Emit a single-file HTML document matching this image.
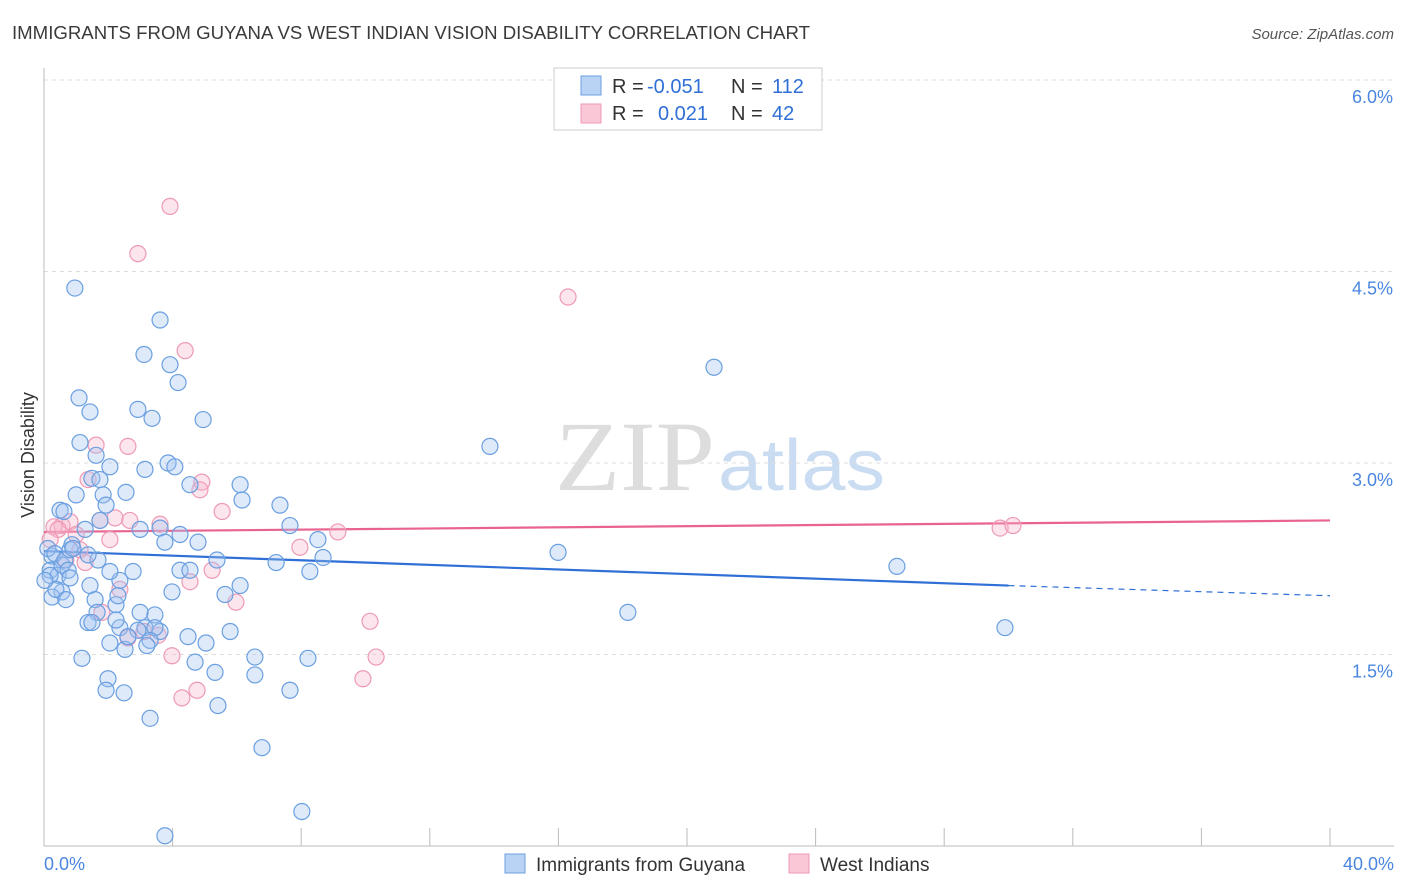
<!DOCTYPE html>
<html><head><meta charset="utf-8"><style>
body{margin:0;background:#fff;font-family:"Liberation Sans",sans-serif;}
svg{display:block}
</style></head><body>
<svg id="chart" width="1406" height="892">
<text x="12" y="39" font-size="18" fill="#3a3a3a" textLength="798" lengthAdjust="spacingAndGlyphs">IMMIGRANTS FROM GUYANA VS WEST INDIAN VISION DISABILITY CORRELATION CHART</text>
<text x="1394" y="39" font-size="15" fill="#555" text-anchor="end" font-style="italic">Source: ZipAtlas.com</text>
<text x="635" y="490" font-size="100" fill="#ddd" text-anchor="middle" font-family="Liberation Serif,serif" textLength="160" lengthAdjust="spacingAndGlyphs">ZIP</text>
<text x="718" y="490" font-size="72" fill="#c9dcf2" textLength="167" lengthAdjust="spacingAndGlyphs">atlas</text>
<g id="grid"></g>
<g id="axes"></g>
<g id="trends"></g>
<g id="points"></g>
<text x="34" y="455" font-size="18" fill="#333" text-anchor="middle" transform="rotate(-90 34 455)">Vision Disability</text>
<g>
<rect x="554" y="68" width="268" height="62" fill="#fff" stroke="#ccc"/>
<rect x="581" y="76" width="20" height="19" fill="#b9d3f5" stroke="#6a9fe0"/>
<rect x="581" y="104" width="20" height="19" fill="#f9c7d6" stroke="#ee9ab5"/>
<text x="612" y="93" font-size="20" fill="#333">R =</text>
<text x="647" y="93" font-size="20" fill="#2f6fd6">-0.051</text>
<text x="731" y="93" font-size="20" fill="#333">N =</text>
<text x="772" y="93" font-size="20" fill="#2f6fd6">112</text>
<text x="612" y="120" font-size="20" fill="#333">R =</text>
<text x="658" y="120" font-size="20" fill="#2f6fd6">0.021</text>
<text x="731" y="120" font-size="20" fill="#333">N =</text>
<text x="772" y="120" font-size="20" fill="#2f6fd6">42</text>
</g>
<g>
<rect x="505" y="854" width="20" height="19" fill="#b9d3f5" stroke="#6a9fe0"/>
<text x="536" y="871" font-size="19" fill="#333">Immigrants from Guyana</text>
<rect x="789" y="854" width="20" height="19" fill="#f9c7d6" stroke="#ee9ab5"/>
<text x="820" y="871" font-size="19" fill="#333">West Indians</text>
</g>
</svg>
<script>
const blueX=[.25,.19,.12,.34,.44,.56,.65,.75,.81,.50,.62,1.00,1.12,1.09,.96,1.43,1.62,1.49,1.74,1.84,1.93,2.05,1.74,1.28,.87,.90,.81,.56,.25,1.43,1.59,1.65,1.37,1.49,1.18,2.05,1.99,1.93,2.49,2.52,2.36,2.24,2.30,2.36,2.77,2.55,2.92,3.11,3.36,3.61,3.92,4.17,4.95,3.14,3.86,4.07,4.54,3.61,3.76,2.99,4.23,4.79,5.38,6.10,6.16,7.34,7.65,8.52,7.22,8.27,8.68,4.23,3.98,6.10,2.99,3.45,3.14,3.61,3.45,2.92,3.30,3.20,4.48,5.04,5.79,4.70,5.32,6.56,6.56,7.65,8.21,5.41,3.30,6.78,8.02,3.76,13.87,20.84,15.99,18.16,26.53,29.89,.19,.37,.68,.03,2.05,5.63,4.54,1.68,2.61,2.24,1.37];
const blueY=[2.27,2.16,2.33,2.29,2.12,2.20,2.24,2.16,2.32,2.63,2.62,2.75,3.16,3.51,4.37,3.40,3.06,2.88,2.87,2.75,2.67,2.97,2.55,2.48,2.36,2.33,2.10,1.99,1.95,2.04,1.93,1.83,1.75,1.75,1.47,1.59,1.31,1.22,1.20,1.54,1.71,1.89,1.96,2.08,2.15,2.77,3.42,3.85,3.35,4.12,3.77,3.63,3.34,2.95,3.00,2.97,2.83,2.49,2.38,2.48,2.44,2.38,2.24,2.83,2.71,2.67,2.51,2.40,2.22,2.15,2.26,2.16,1.99,2.04,1.83,1.81,1.71,1.68,1.71,1.69,1.61,1.57,1.64,1.59,1.68,1.44,1.36,1.48,1.34,1.22,1.47,1.10,1.00,.77,.27,.08,3.13,3.75,2.30,1.83,2.19,1.71,2.12,2.01,1.93,2.08,2.15,1.97,2.16,2.24,1.64,1.77,2.28];
const pinkX=[3.92,2.92,16.30,4.39,1.62,2.61,1.37,4.91,4.85,5.54,2.21,2.67,3.61,1.74,.56,.81,.31,.44,1.00,2.05,1.12,7.96,9.14,29.74,30.14,5.23,4.54,2.36,5.97,1.80,10.14,2.61,3.11,3.55,3.98,10.33,9.92,4.29,4.76,.19,.68,1.28];
const pinkY=[5.01,4.64,4.30,3.88,3.14,3.13,2.87,2.85,2.79,2.62,2.57,2.55,2.52,2.55,2.51,2.54,2.50,2.48,2.44,2.40,2.32,2.34,2.46,2.49,2.51,2.16,2.07,2.01,1.91,1.83,1.76,1.63,1.68,1.65,1.49,1.48,1.31,1.16,1.22,2.40,2.24,2.22];
const blueTrend=[2.31,2.04,1.96]; // at x=0, 30, 40
const pinkTrend=[2.46,2.55];      // at x=0, 40
const yTicks=[1.5,3.0,4.5,6.0];
const xTickLabels=["0.0%","40.0%"];
const NS="http://www.w3.org/2000/svg";
const sx=v=>44+v/40*1286, sy=v=>846-v*127.67;
function mk(tag,attrs,parent){const e=document.createElementNS(NS,tag);for(const k in attrs)e.setAttribute(k,attrs[k]);parent.appendChild(e);return e;}
const grid=document.getElementById('grid'),axes=document.getElementById('axes'),tr=document.getElementById('trends'),pts=document.getElementById('points');
yTicks.forEach(t=>{
 const l=mk('line',{x1:44,x2:1394,y1:sy(t),y2:sy(t),stroke:'#ddd','stroke-dasharray':'4,4'},grid);
 
 
 const tx=mk('text',{x:1393,y:sy(t)+23,'font-size':18,fill:'#4a86e0','text-anchor':'end'},axes);
 tx.textContent=t.toFixed(1)+'%';
 
 
});
const yax=mk('line',{x1:44,x2:44,y1:68,y2:846,stroke:'#bbb'},axes);


const xax=mk('line',{x1:44,x2:1394,y1:846,y2:846,stroke:'#bbb'},axes);


for(let i=0;i<=10;i++){
 const t=mk('line',{x1:sx(i*4),x2:sx(i*4),y1:828,y2:846,stroke:'#bbb'},axes);
 
 
}
[[0,'start',44],[40,'end',1394]].forEach((d,i)=>{
 const tx=mk('text',{x:d[2],y:870,'font-size':18,fill:'#4a86e0','text-anchor':d[1]},axes);
 tx.textContent=xTickLabels[i];
 
 
});
function drawPts(xs,ys,fill,stroke,name){
 xs.forEach((x,i)=>{
  const c=mk('circle',{cx:sx(x),cy:sy(ys[i]),r:8,fill:fill,stroke:stroke,'stroke-width':1.2},pts);
  
  
 });
}
drawPts(pinkX,pinkY,'rgba(246,180,202,0.35)','#ee9ab5','west-indians-point');
drawPts(blueX,blueY,'rgba(160,196,242,0.35)','#6a9fe0','guyana-point');
const b1=mk('line',{x1:sx(0),y1:sy(blueTrend[0]),x2:sx(30),y2:sy(blueTrend[1]),stroke:'#2f6fd6','stroke-width':2.2},tr);


const b2=mk('line',{x1:sx(30),y1:sy(blueTrend[1]),x2:sx(40),y2:sy(blueTrend[2]),stroke:'#2f6fd6','stroke-width':1.2,'stroke-dasharray':'6,5'},tr);


const p1=mk('line',{x1:sx(0),y1:sy(pinkTrend[0]),x2:sx(40),y2:sy(pinkTrend[1]),stroke:'#e8638f','stroke-width':2.2},tr);


</script>
</body></html>
